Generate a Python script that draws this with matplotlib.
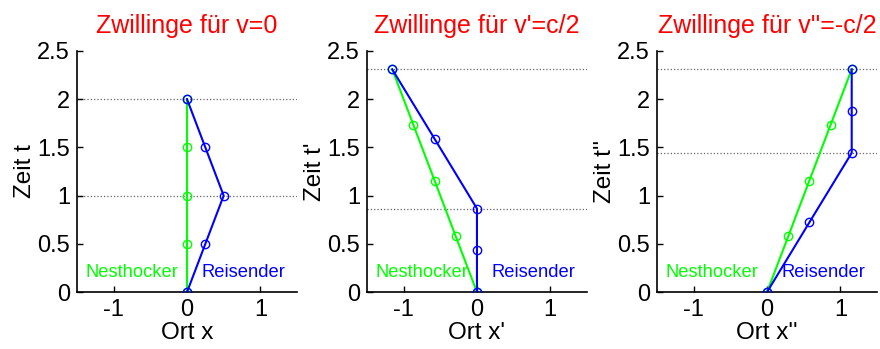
import matplotlib
matplotlib.use("Agg")
import matplotlib.pyplot as plt

plt.rcParams['font.family'] = ['Liberation Sans', 'DejaVu Sans']

# Nesthocker (green) and Reisender (blue) world lines in three frames
titles = ["Zwillinge für v=0", "Zwillinge für v'=c/2", "Zwillinge für v''=-c/2"]
xlabels = ["Ort x", "Ort x'", "Ort x''"]
ylabels = ["Zeit t", "Zeit t'", "Zeit t''"]

nest_x = [[0, 0, 0, 0, 0],
          [0, -0.289, -0.577, -0.866, -1.155],
          [0, 0.289, 0.577, 0.866, 1.155]]
nest_t = [[0, 0.5, 1.0, 1.5, 2.0],
          [0, 0.577, 1.155, 1.732, 2.309],
          [0, 0.577, 1.155, 1.732, 2.309]]
reis_x = [[0, 0.25, 0.5, 0.25, 0],
          [0, 0, 0, -0.577, -1.155],
          [0, 0.577, 1.155, 1.155, 1.155]]
reis_t = [[0, 0.5, 1.0, 1.5, 2.0],
          [0, 0.433, 0.866, 1.588, 2.309],
          [0, 0.722, 1.443, 1.876, 2.309]]
# dotted reference lines (turnaround / meeting times)
hlines = [[1.0, 2.0], [0.866, 2.309], [1.443, 2.309]]

fig = plt.figure(figsize=(8.8, 3.49), dpi=100)
lefts = [0.0875, 0.417, 0.7466]
for i in range(3):
    ax = fig.add_axes([lefts[i], 0.163, 0.25, 0.691])
    for h in hlines[i]:
        ax.axhline(h, color='#666666', linestyle=':', linewidth=0.9, zorder=1)
    ax.plot(nest_x[i], nest_t[i], '-o', color=(0, 1, 0), mfc='none',
            ms=6, mew=1, lw=1.5, zorder=2)
    ax.plot(reis_x[i], reis_t[i], '-o', color=(0, 0, 1), mfc='none',
            ms=6, mew=1, lw=1.5, zorder=3)
    ax.text(-1.38, 0.2, "Nesthocker", color=(0, 1, 0), fontsize=13.2,
            ha='left', va='center')
    ax.text(0.2, 0.2, "Reisender", color=(0, 0, 1), fontsize=13.2,
            ha='left', va='center')
    ax.set_xlim(-1.5, 1.5)
    ax.set_ylim(0, 2.5)
    ax.set_xticks([-1, 0, 1])
    ax.set_xticklabels(['-1', '0', '1'])
    ax.set_yticks([0, 0.5, 1, 1.5, 2, 2.5])
    ax.set_yticklabels(['0', '0.5', '1', '1.5', '2', '2.5'])
    ax.tick_params(direction='in', labelsize=17, length=4, width=1, pad=5)
    ax.spines['top'].set_visible(False)
    ax.spines['right'].set_visible(False)
    ax.spines['left'].set_linewidth(1.2)
    ax.spines['bottom'].set_linewidth(1.2)
    ax.set_title(titles[i], color='red', fontsize=18, pad=13)
    ax.set_xlabel(xlabels[i], fontsize=17.5, labelpad=1)
    ax.set_ylabel(ylabels[i], fontsize=17.5, labelpad=1)

fig.savefig("out.png", dpi=100)
